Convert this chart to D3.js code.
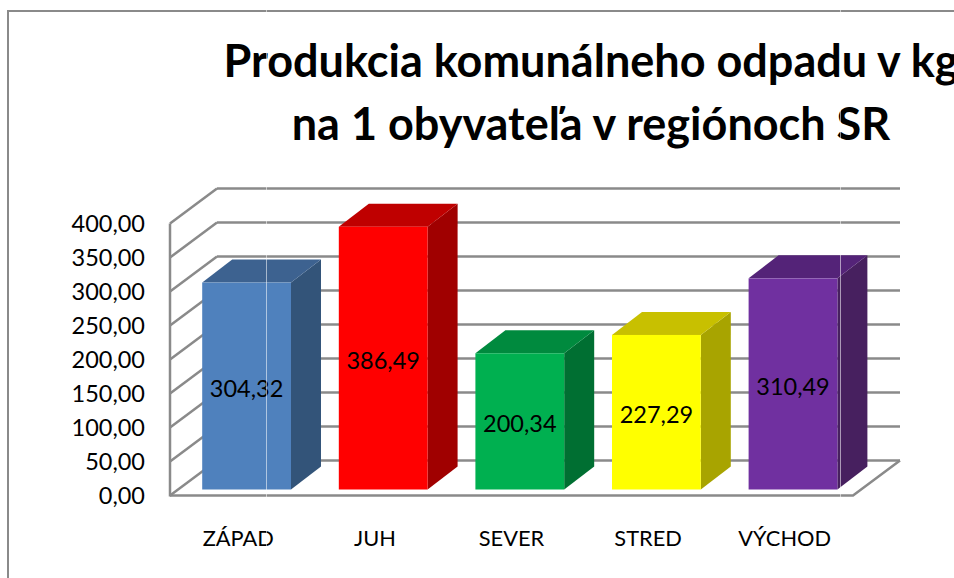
<!DOCTYPE html>
<html>
<head>
<meta charset="utf-8">
<script src="https://cdn.jsdelivr.net/npm/d3@7"></script>
<style>
  html, body { margin: 0; padding: 0; background: #fff; overflow: hidden; }
  svg { display: block; }
  text { font-family: Lato, "Open Sans", sans-serif; fill: #000; }
</style>
</head>
<body>
<div id="chart-area"></div>
<script>
const categories = ["ZÁPAD", "JUH", "SEVER", "STRED", "VÝCHOD"];
const values = [304.32, 386.49, 200.34, 227.29, 310.49];
const yTicks = [0, 50, 100, 150, 200, 250, 300, 350, 400];
const titleLines = [
  "Produkcia komunálneho odpadu v kg",
  "na 1 obyvateľa v regiónoch SR"
];
const frontColors = ["#4f81bd", "#ff0000", "#00b050", "#ffff00", "#7030a0"];
const topColors = ["#3d6290", "#bf0000", "#008a3e", "#c8c000", "#542378"];
const sideColors = ["#335479", "#a00000", "#006f32", "#a8a400", "#47205f"];

const width = 954,
  height = 578;

const gridColor = "#8a8a8a";

// depth of the floor and of the bars, in px
const floorDx = 47,
  floorDy = -35,
  barDx = 30,
  barDy = -23,
  barOffsetX = 8.3,
  barOffsetY = -6;

const svg = d3
  .select("#chart-area")
  .append("svg")
  .attr("width", width)
  .attr("height", height);

// Scales
const xScale = d3
  .scaleBand()
  .domain(categories)
  .range([170, 853])
  .paddingInner(0.35)
  .paddingOuter(0.175);
const yScale = d3.scaleLinear().domain([0, 400]).range([495.5, 223.5]);

const locale = d3.formatLocale({
  decimal: ",",
  thousands: " ",
  grouping: [3],
  currency: ["", ""]
});
const formatValue = locale.format(".2f");

// Outer frame, only the left and top edges are in the crop
svg
  .append("path")
  .attr("d", d3.line()([[8, height], [8, 11], [width, 11]]))
  .attr("fill", "none")
  .attr("stroke", gridColor)
  .attr("stroke-width", 2);

// Title
svg
  .selectAll(".chart-title")
  .data(titleLines)
  .enter()
  .append("text")
  .attr("class", "chart-title")
  .attr("x", 591)
  .attr("y", (d, i) => 77 + i * 63)
  .attr("text-anchor", "middle")
  .attr("font-size", "45px")
  .attr("font-weight", "bold")
  .text(d => d);

// Walls: back lines and side diagonals
const walls = svg.append("g").attr("stroke", gridColor).attr("stroke-width", 2.5).attr("fill", "none");
const xLeft = xScale.range()[0],
  xRight = xScale.range()[1];

walls
  .selectAll(".back-line")
  .data(yTicks)
  .enter()
  .append("line")
  .attr("class", "back-line")
  .attr("x1", xLeft + floorDx)
  .attr("x2", xRight + floorDx)
  .attr("y1", d => yScale(d) + floorDy)
  .attr("y2", d => yScale(d) + floorDy);

walls
  .selectAll(".side-line")
  .data(yTicks)
  .enter()
  .append("line")
  .attr("class", "side-line")
  .attr("x1", xLeft)
  .attr("x2", xLeft + floorDx)
  .attr("y1", d => yScale(d))
  .attr("y2", d => yScale(d) + floorDy);

walls
  .append("line")
  .attr("x1", xLeft)
  .attr("x2", xLeft)
  .attr("y1", yScale(400))
  .attr("y2", yScale(0) + 1);

walls
  .append("path")
  .attr("d", d3.line()([
    [xLeft, yScale(0)],
    [xRight, yScale(0)],
    [xRight + floorDx, yScale(0) + floorDy]
  ]));

// Bars
const bars = svg
  .selectAll(".bar")
  .data(categories.map((c, i) => ({ c, i, v: values[i] })))
  .enter()
  .append("g")
  .attr("class", "bar");

const barLeft = d => xScale(d.c) + barOffsetX;
const barRight = d => barLeft(d) + xScale.bandwidth();
const barTop = d => yScale(d.v) + barOffsetY;
const barBase = () => yScale(0) + barOffsetY;
const pts = a => a.map(p => p.join(",")).join(" ");

bars
  .append("polygon")
  .attr("fill", d => sideColors[d.i])
  .attr("points", d =>
    pts([
      [barRight(d), barBase()],
      [barRight(d) + barDx, barBase() + barDy],
      [barRight(d) + barDx, barTop(d) + barDy],
      [barRight(d), barTop(d)]
    ])
  );

bars
  .append("polygon")
  .attr("fill", d => topColors[d.i])
  .attr("points", d =>
    pts([
      [barLeft(d), barTop(d)],
      [barLeft(d) + barDx, barTop(d) + barDy],
      [barRight(d) + barDx, barTop(d) + barDy],
      [barRight(d), barTop(d)]
    ])
  );

bars
  .append("rect")
  .attr("fill", d => frontColors[d.i])
  .attr("x", barLeft)
  .attr("y", barTop)
  .attr("width", xScale.bandwidth())
  .attr("height", d => barBase() - barTop(d));

// Data labels
bars
  .append("text")
  .attr("x", d => barLeft(d) + xScale.bandwidth() / 2)
  .attr("y", d => (barTop(d) + barBase()) / 2 + 11)
  .attr("text-anchor", "middle")
  .attr("font-size", "23.5px")
  .text(d => formatValue(d.v));

// Axes
const yAxisGroup = svg
  .append("g")
  .attr("class", "y axis")
  .attr("transform", `translate(${xLeft},0)`)
  .call(
    d3
      .axisLeft(yScale)
      .tickValues(yTicks)
      .tickSize(0)
      .tickPadding(25)
      .tickFormat(formatValue)
  );
yAxisGroup.select(".domain").remove();
yAxisGroup.selectAll("text").attr("font-size", "23.5px");

const xAxisGroup = svg
  .append("g")
  .attr("class", "x axis")
  .attr("transform", `translate(0,${yScale(0)})`)
  .call(d3.axisBottom(xScale).tickSize(0).tickPadding(35));
xAxisGroup.select(".domain").remove();
xAxisGroup.selectAll("text").attr("font-size", "21.8px");

// Thin light seams that run through the whole picture
svg
  .selectAll(".seam")
  .data([266, 840])
  .enter()
  .append("line")
  .attr("class", "seam")
  .attr("x1", d => d + 0.5)
  .attr("x2", d => d + 0.5)
  .attr("y1", 10)
  .attr("y2", height)
  .attr("stroke", "#fff")
  .attr("stroke-opacity", 0.55);
</script>
</body>
</html>
